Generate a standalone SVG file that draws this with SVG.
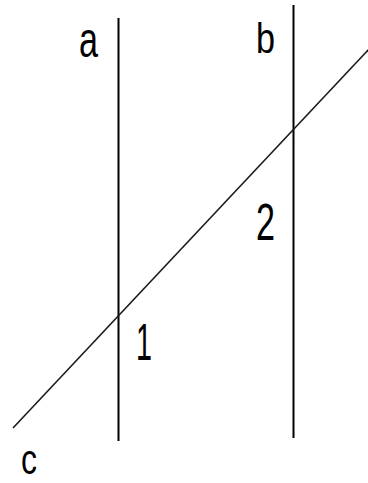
<svg xmlns="http://www.w3.org/2000/svg" width="368" height="483" viewBox="0 0 368 483">
<style>
.ln{stroke:#000;stroke-width:2;fill:none}
.tr{stroke:#1a1a1a;stroke-width:1.6;fill:none}
.lb{font-family:"Liberation Sans",Arial,sans-serif;fill:#000}
</style>
<rect width="368" height="483" fill="#fff"/>
<g id="lines">
<line id="line-a" class="ln" x1="118.5" y1="18" x2="118.5" y2="441"/>
<line id="line-b" class="ln" x1="293.5" y1="5" x2="293.5" y2="438"/>
<line id="line-c" class="tr" x1="13" y1="428" x2="370" y2="48"/>
</g>
<g id="labels">
<text class="lb" x="79" y="57" font-size="50" textLength="19" lengthAdjust="spacingAndGlyphs">a</text>
<text class="lb" x="256" y="53" font-size="42" textLength="19" lengthAdjust="spacingAndGlyphs">b</text>
<text class="lb" x="21" y="474" font-size="42" textLength="16" lengthAdjust="spacingAndGlyphs">c</text>
<text class="lb" x="136" y="360" font-size="51" textLength="16" lengthAdjust="spacingAndGlyphs">1</text>
<text class="lb" x="256" y="240" font-size="51" textLength="19" lengthAdjust="spacingAndGlyphs">2</text>
</g>
</svg>
